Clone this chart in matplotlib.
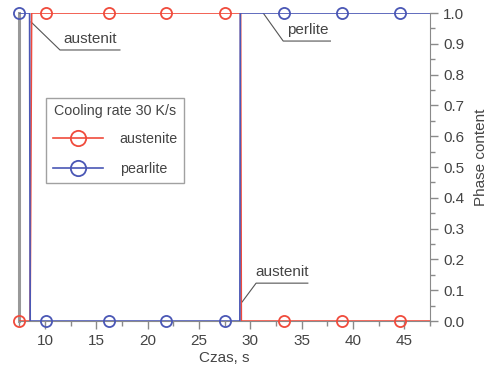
import matplotlib.pyplot as plt
from matplotlib.ticker import MultipleLocator

plt.rcParams['font.family'] = ['Liberation Sans', 'DejaVu Sans']

# phase curves (time in s, phase fraction)
t_aust = [7.47, 8.55, 8.7, 29.05, 29.12, 47.5]
v_aust = [0, 0, 1, 1, 0, 0]
t_pear = [7.47, 8.5, 8.56, 28.98, 29.02, 47.5]
v_pear = [1, 1, 0, 0, 1, 1]

# marker samples
t_mark = [7.47, 10.05, 16.2, 21.8, 27.5, 33.3, 38.9, 44.6]
m_aust = [0, 1, 1, 1, 1, 0, 0, 0]
m_pear = [1, 0, 0, 0, 0, 1, 1, 1]

red = '#f04b3c'
blue = '#4a57b5'
grey = '#8a8a8a'
txt = '#444444'

fig = plt.figure(figsize=(4.9, 3.72), dpi=100)
ax = fig.add_axes([0.0388, 0.137, 0.8388, 0.828])

ax.plot(t_aust, v_aust, color=red, lw=1.2, zorder=3)
ax.plot(t_pear, v_pear, color=blue, lw=1.2, zorder=4)
ax.plot(t_mark, m_pear, ls='none', marker='o', ms=8, mfc='none', mec=blue,
        mew=1.3, clip_on=False, zorder=5)
ax.plot(t_mark, m_aust, ls='none', marker='o', ms=8, mfc='none', mec=red,
        mew=1.3, clip_on=False, zorder=5)

# legend proxies
h1, = ax.plot([], [], color=red, lw=1.2, marker='o', ms=11, mfc='none', mew=1.3)
h2, = ax.plot([], [], color=blue, lw=1.2, marker='o', ms=11, mfc='none', mew=1.3)
leg = ax.legend([h1, h2], ['austenite', 'pearlite'], title='Cooling rate 30 K/s',
                loc='upper left', bbox_to_anchor=(0.066, 0.724), borderaxespad=0,
                fancybox=False, edgecolor=grey, fontsize=10.3, title_fontsize=10.3,
                handlelength=3.5, handletextpad=1.2, labelspacing=1.1,
                borderpad=0.45, labelcolor=txt)
leg.get_title().set_color(txt)
leg.get_frame().set_linewidth(1.0)
leg._legend_box.sep = 10

# leader annotations
lines = [
    ([8.64, 11.46, 17.3], [0.971, 0.88, 0.88]),
    ([31.25, 33.2, 37.8], [1.0, 0.909, 0.909]),
    ([29.2, 30.56, 35.6], [0.062, 0.123, 0.123]),
]
for xs, ys in lines:
    ax.plot(xs, ys, color='#555555', lw=0.8, zorder=2)
ax.text(14.4, 0.893, 'austenit', ha='center', va='bottom', fontsize=11, color=txt)
ax.text(35.6, 0.922, 'perlite', ha='center', va='bottom', fontsize=11, color=txt)
ax.text(33.1, 0.136, 'austenit', ha='center', va='bottom', fontsize=11, color=txt)

ax.set_xlim(7.47, 47.5)
ax.set_ylim(0, 1)
ax.xaxis.set_major_locator(MultipleLocator(5))
ax.xaxis.set_minor_locator(MultipleLocator(2.5))
ax.yaxis.set_major_locator(MultipleLocator(0.1))
ax.yaxis.set_minor_locator(MultipleLocator(0.05))
ax.yaxis.tick_right()
ax.yaxis.set_label_position('right')
ax.yaxis.set_major_formatter(plt.FormatStrFormatter('%.1f'))

ax.tick_params(which='both', direction='out', color=grey, labelcolor=txt,
               labelsize=11)
ax.tick_params(which='major', length=6, width=1)
ax.tick_params(which='minor', length=3.5, width=1)
ax.tick_params(axis='y', which='both', left=False, right=True)

ax.spines['top'].set_visible(False)
ax.spines['left'].set_color('#999999')
ax.spines['left'].set_linewidth(2.2)
ax.spines['right'].set_color(grey)
ax.spines['bottom'].set_color(grey)

ax.set_xlabel('Czas, s', fontsize=11, color=txt, labelpad=2)
ax.set_ylabel('Phase content', fontsize=11, color=txt)
ax.yaxis.set_label_coords(1.108, 0.53)

fig.savefig('out.png', dpi=100)
